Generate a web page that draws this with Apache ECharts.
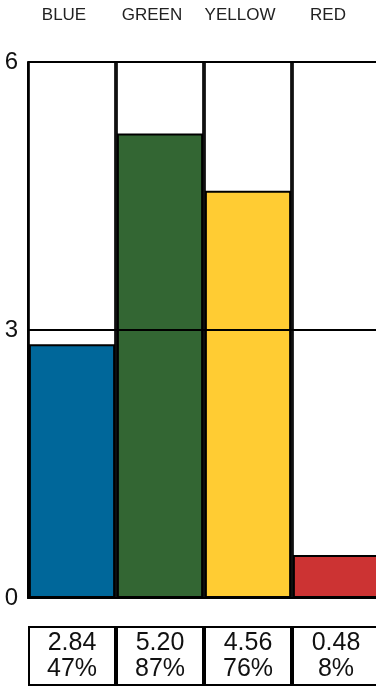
<!DOCTYPE html>
<html lang="en">
<head>
    <meta charset="UTF-8">
    <title>Bars</title>
    <script src="https://fastly.jsdelivr.net/npm/echarts@6/dist/echarts.min.js"></script>
    <style>
        html, body { margin: 0; padding: 0; background: #fff; }
    </style>
</head>
<body>
    <div id="dv" style="width:376px;height:689px;"></div>
</body>
<script>
   var categories = ['BLUE', 'GREEN', 'YELLOW', 'RED']
   var values = [2.84, 5.20, 4.56, 0.48]
   var percents = [47, 87, 76, 8]
   var colors = ['#00679a', '#336633', '#ffcc33', '#cc3333']
   var yTicks = [0, 3, 6]

   var font = 'Liberation Sans, Arial, sans-serif'
   var myChart = echarts.init(document.getElementById('dv'))

   var option = {
        animation: false,
        grid: [{
            left: 28,
            top: 62,
            width: 352,
            height: 536,
            outerBoundsMode: 'none'
        }, {
            left: 28,
            top: 626,
            width: 352,
            height: 60,
            outerBoundsMode: 'none'
        }],
        xAxis: [{
            gridIndex: 0,
            type: 'category',
            data: categories,
            axisLine: { lineStyle: { color: '#000', width: 2 } },
            axisTick: { show: false },
            axisLabel: { show: false }
        }, {
            gridIndex: 0,
            type: 'category',
            position: 'top',
            data: categories,
            axisLine: { show: false },
            axisTick: { show: false },
            axisLabel: {
                interval: 0,
                margin: 38,
                fontSize: 17,
                fontFamily: font,
                color: '#222',
                padding: [0, 16, 0, 0]
            }
        }, {
            gridIndex: 1,
            type: 'category',
            data: categories,
            show: false
        }],
        yAxis: [{
            gridIndex: 0,
            type: 'value',
            min: yTicks[0],
            max: yTicks[yTicks.length - 1],
            interval: 3,
            z: 10,
            axisLine: { show: true, lineStyle: { color: '#000', width: 2 } },
            axisTick: { show: false },
            splitLine: { lineStyle: { color: '#000', width: 2 } },
            axisLabel: {
                margin: 10,
                fontSize: 24,
                fontFamily: font,
                color: '#111'
            }
        }, {
            gridIndex: 1,
            type: 'value',
            min: 0,
            max: 1,
            show: false
        }],
        series: [{
            type: 'bar',
            xAxisIndex: 0,
            yAxisIndex: 0,
            barCategoryGap: '2%',
            showBackground: true,
            backgroundStyle: {
                color: '#fff',
                borderColor: '#111',
                borderWidth: 2
            },
            itemStyle: {
                borderColor: '#000',
                borderWidth: 2
            },
            data: values.map(function (v, i) {
                return { value: v, itemStyle: { color: colors[i] } }
            })
        }, {
            // table of values below the plot
            type: 'bar',
            xAxisIndex: 2,
            yAxisIndex: 1,
            barCategoryGap: '0%',
            itemStyle: {
                color: '#fff',
                borderColor: '#000',
                borderWidth: 2
            },
            label: {
                show: true,
                position: 'inside',
                fontSize: 25,
                lineHeight: 26,
                fontFamily: font,
                color: '#111',
                formatter: function (p) {
                    return values[p.dataIndex].toFixed(2) + '\n' + percents[p.dataIndex] + '%'
                }
            },
            data: values.map(function () { return 1 })
        }]
   }
   myChart.setOption(option)
</script>
</html>
